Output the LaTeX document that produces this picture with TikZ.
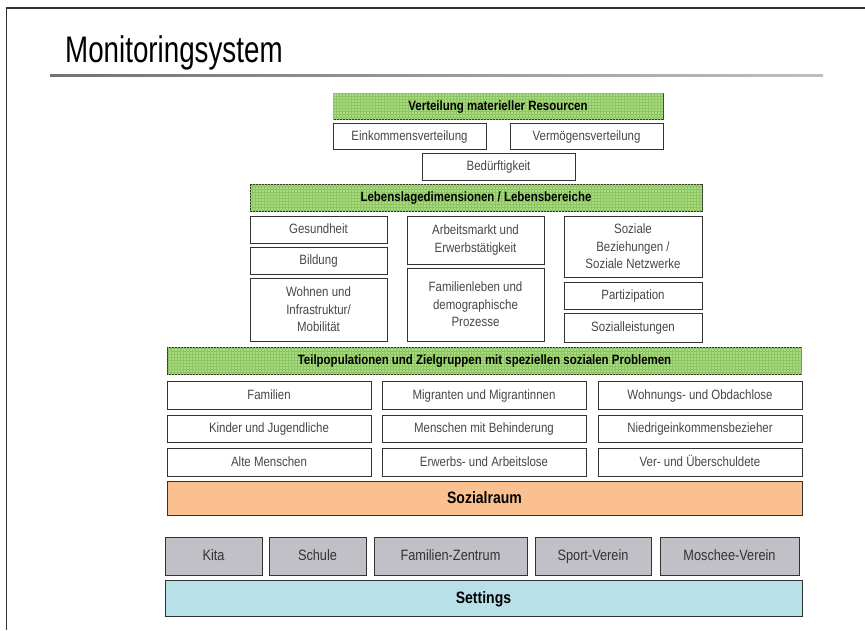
\documentclass[tikz,border=0pt]{standalone}
\usepackage{fontspec}
\setmainfont{Liberation Sans}[FakeStretch=0.85]
\newfontfamily\titlefont{Liberation Sans}[FakeStretch=0.75]
\usetikzlibrary{patterns}
\definecolor{hdrgreen}{RGB}{170,218,128}
\definecolor{hdrgrid}{RGB}{140,198,98}
\definecolor{raumorange}{RGB}{250,192,143}
\definecolor{setgray}{RGB}{192,192,198}
\definecolor{setblue}{RGB}{183,224,232}
\tikzset{
	box/.style={draw=black!80, line width=1pt, inner sep=1pt, align=center,
		text height=10pt, text depth=2pt, font=\fontsize{13.5}{17.5}\selectfont},
	multi/.style={text height={}, text depth={}},
	wbox/.style={box, fill=white, text=black!72},
	hbox/.style={box, fill=hdrgreen, postaction={pattern=grid, pattern color=hdrgrid},
		font=\fontsize{13.5}{17.5}\selectfont\bfseries},
	rbox/.style={box, fill=raumorange, text height=13pt, text depth=2.5pt,
		font=\fontsize{16.5}{20}\selectfont\bfseries},
	sbox/.style={box, fill=setgray, text=black!80, text height=12pt, text depth=2.5pt,
		font=\fontsize{15}{18}\selectfont},
	bbox/.style={box, fill=setblue, text height=13pt, text depth=2.5pt,
		font=\fontsize{16.5}{20}\selectfont\bfseries}
}

\begin{document}
\begin{tikzpicture}[x=1pt, y=-1pt]
		%%%%% START %%%%%
		\useasboundingbox (0,0) rectangle (865,630);
		
		\draw[line width=1.5pt, color=black!80] (6.5,630) -- (6.5,8) -- (865,8);
		\node[anchor=base west, inner sep=0pt, font=\titlefont\fontsize{37}{40}\selectfont] (title) at (65,62) {Monitoringsystem};
		\shade[left color=black!55, middle color=black!85, right color=black!25] (50,74) rectangle (823,76.5);
		
		% resources
		\node[hbox, minimum width=330, minimum height=26] (verteil) at (498,106) {Verteilung materieller Resourcen};
		\node[wbox, minimum width=153, minimum height=26] (einkommen) at (409.5,136) {Einkommensverteilung};
		\node[wbox, minimum width=153, minimum height=26] (vermoegen) at (586.5,136) {Vermögensverteilung};
		\node[wbox, minimum width=153, minimum height=27] (bedarf) at (498.5,166.5) {Bedürftigkeit};
		
		% dimensions
		\node[hbox, minimum width=452, minimum height=27] (lebenslage) at (476,197.5) {Lebenslagedimensionen / Lebensbereiche};
		\node[wbox, minimum width=137, minimum height=27] (gesund) at (318.5,229.5) {Gesundheit};
		\node[wbox, minimum width=137, minimum height=27] (bildung) at (318.5,260.5) {Bildung};
		\node[wbox, multi, minimum width=137, minimum height=63] (wohnen) at (318.5,309.5) {Wohnen und\\Infrastruktur/\\Mobilität};
		\node[wbox, multi, minimum width=137, minimum height=48] (arbeit) at (475.5,240) {Arbeitsmarkt und\\Erwerbstätigkeit};
		\node[wbox, multi, minimum width=137, minimum height=73] (familie) at (475.5,304.5) {Familienleben und\\demographische\\Prozesse};
		\node[wbox, multi, minimum width=138, minimum height=61] (sozbez) at (633,246.5) {Soziale\\Beziehungen /\\Soziale Netzwerke};
		\node[wbox, minimum width=138, minimum height=27] (partiz) at (633,295.5) {Partizipation};
		\node[wbox, minimum width=138, minimum height=29] (sozleist) at (633,327.5) {Sozialleistungen};
		
		% target groups
		\node[hbox, minimum width=634, minimum height=27] (teilpop) at (484.5,360.5) {Teilpopulationen und Zielgruppen mit speziellen sozialen Problemen};
		\node[wbox, minimum width=204, minimum height=28] (familien) at (269,395) {Familien};
		\node[wbox, minimum width=204, minimum height=28] (migranten) at (484,395) {Migranten und Migrantinnen};
		\node[wbox, minimum width=204, minimum height=28] (obdach) at (700,395) {Wohnungs- und Obdachlose};
		\node[wbox, minimum width=204, minimum height=27] (kinder) at (269,428.5) {Kinder und Jugendliche};
		\node[wbox, minimum width=204, minimum height=27] (behind) at (484,428.5) {Menschen mit Behinderung};
		\node[wbox, minimum width=204, minimum height=27] (niedrig) at (700,428.5) {Niedrigeinkommensbezieher};
		\node[wbox, minimum width=204, minimum height=28] (alte) at (269,462) {Alte Menschen};
		\node[wbox, minimum width=204, minimum height=28] (arbeitslos) at (484,462) {Erwerbs- und Arbeitslose};
		\node[wbox, minimum width=204, minimum height=28] (schulden) at (700,462) {Ver- und Überschuldete};
		
		\node[rbox, minimum width=635, minimum height=34] (sozialraum) at (484.5,498) {Sozialraum};
		
		% settings
		\node[sbox, minimum width=97, minimum height=38] (kita) at (213.5,556) {Kita};
		\node[sbox, minimum width=97, minimum height=38] (schule) at (317.5,556) {Schule};
		\node[sbox, minimum width=153, minimum height=38] (famzentrum) at (450.5,556) {Familien-Zentrum};
		\node[sbox, minimum width=116, minimum height=38] (sport) at (593,556) {Sport-Verein};
		\node[sbox, minimum width=139, minimum height=38] (moschee) at (729.5,556) {Moschee-Verein};
		\node[bbox, minimum width=637, minimum height=36] (settings) at (483.5,598) {Settings};
		
		%%%%% END %%%%%
	\end{tikzpicture}
\end{document}
